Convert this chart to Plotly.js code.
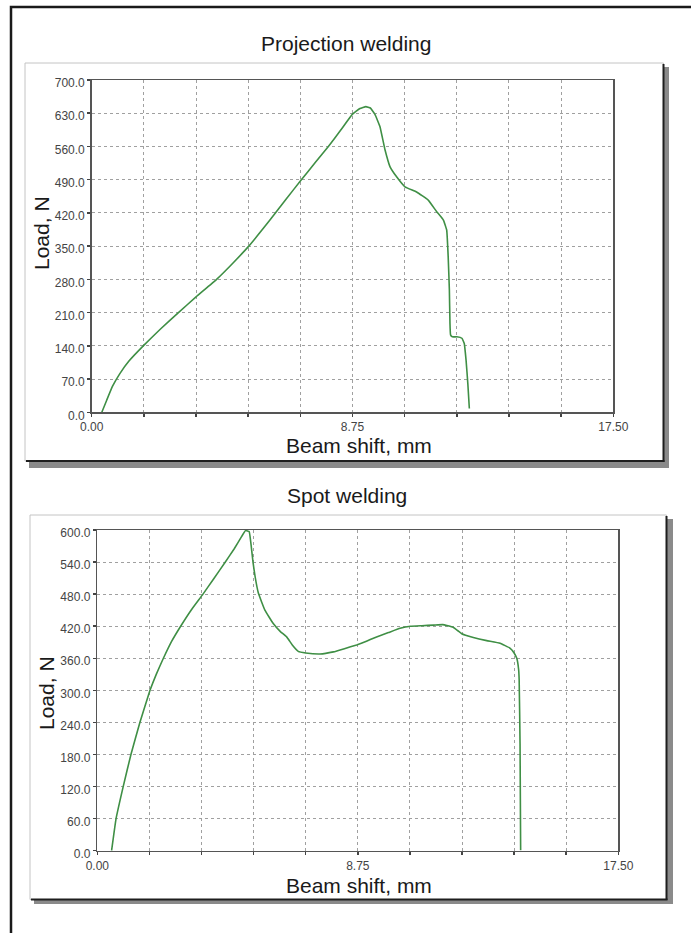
<!DOCTYPE html>
<html>
<head>
<meta charset="utf-8">
<script src="https://cdn.plot.ly/plotly-3.0.1.min.js"></script>
<style>
html,body{margin:0;padding:0;background:#fff;}
#chart{width:691px;height:933px;}
</style>
</head>
<body>
<div id="chart"></div>
<script>
// ---- Data ----
var projTitle = "Projection welding";
var spotTitle = "Spot welding";
var xTitle = "Beam shift, mm";
var yTitle = "Load, N";

var projShift = [0.34,0.50,0.70,0.95,1.25,1.73,2.30,2.91,3.50,4.19,4.75,5.27,5.98,6.50,7.02,7.50,7.94,8.35,8.75,9.00,9.20,9.35,9.50,9.67,9.84,10.01,10.23,10.51,10.90,11.29,11.57,11.80,11.91,11.96,12.00,12.02,12.04,12.10,12.25,12.42,12.50,12.56,12.62,12.67];
var projLoad  = [0,25,55,82,108,140,175,210,243,280,315,350,405,447,489,526,560,594,628,640,644,641,628,602,553,517,496,475,464,447,423,405,384,328,258,188,163,159,159,156,145,110,60,8];

var spotShift = [0.48,0.63,0.87,1.13,1.43,1.77,1.98,2.22,2.50,2.80,3.15,3.55,3.90,4.30,4.60,4.85,4.98,5.10,5.17,5.23,5.30,5.41,5.63,5.91,6.15,6.36,6.55,6.75,7.00,7.48,7.93,8.30,8.71,9.04,9.38,9.78,10.17,10.52,10.90,11.30,11.60,11.95,12.10,12.24,12.63,13.08,13.53,13.86,14.00,14.09,14.15,14.17,14.20,14.22];
var spotLoad  = [0,60,120,180,240,300,330,360,392,420,450,480,508,540,565,588,599,597,570,540,513,482,450,425,410,400,385,373,370,368,372,378,385,392,400,408,416,420,421,422,423,418,412,406,399,393,388,379,370,360,340,320,200,1];

var projYTicks = [0,70,140,210,280,350,420,490,560,630,700];
var spotYTicks = [0,60,120,180,240,300,360,420,480,540,600];
var xTickVals = [0,1.75,3.5,5.25,7,8.75,10.5,12.25,14,15.75,17.5];
var xTickText = ["0.00","","","","","8.75","","","","","17.50"];

// ---- Layout helpers (pixel -> paper) ----
var W = 691, H = 933;
function px(x){ return x / W; }
function py(y){ return 1 - y / H; }

var tickFont = {family: "Liberation Sans Narrow, Arial Narrow, Liberation Sans, Arial, sans-serif", size: 12, color: "#444"};
var titleFont = {family: "Liberation Sans, Arial, sans-serif", size: 21, color: "#1a1a1a"};

function xAxis(domain, anchor){
  return {
    domain: domain, anchor: anchor, range: [0, 17.5],
    tickmode: "array", tickvals: xTickVals, ticktext: xTickText,
    showgrid: true, gridcolor: "#a0a0a0", griddash: "dot", gridwidth: 1,
    zeroline: false, showline: true, linecolor: "#555", linewidth: 1.5, mirror: true,
    ticks: "outside", ticklen: 3, tickcolor: "#444", tickwidth: 1.5,
    tickfont: tickFont, ticklabelstandoff: 0,
    fixedrange: true
  };
}
function yAxis(domain, anchor, ticks, maxV){
  return {
    domain: domain, anchor: anchor, range: [0, maxV],
    tickmode: "array", tickvals: ticks, ticktext: ticks.map(function(v){return v.toFixed(1);}),
    showgrid: true, gridcolor: "#a0a0a0", griddash: "dot", gridwidth: 1,
    zeroline: false, showline: true, linecolor: "#555", linewidth: 1.5, mirror: true,
    ticks: "outside", ticklen: 3, tickcolor: "#444", tickwidth: 1.5,
    tickfont: tickFont, ticklabelshift: 3,
    fixedrange: true
  };
}

var traces = [
  {x: projShift, y: projLoad, xaxis: "x", yaxis: "y", type: "scatter", mode: "lines",
   line: {color: "#3f8f45", width: 1.6, shape: "spline", smoothing: 0.3}, showlegend: false, hoverinfo: "skip"},
  {x: spotShift, y: spotLoad, xaxis: "x2", yaxis: "y2", type: "scatter", mode: "lines",
   line: {color: "#3f8f45", width: 1.6, shape: "spline", smoothing: 0.3}, showlegend: false, hoverinfo: "skip"}
];

var shapes = [
  // outer frame
  {type: "rect", xref: "paper", yref: "paper", x0: px(11), x1: px(730), y0: py(7), y1: py(980),
   line: {color: "#1a1a1a", width: 2.5}, fillcolor: "rgba(0,0,0,0)", layer: "below"},
  // top panel shadow + box
  {type: "rect", xref: "paper", yref: "paper", x0: px(29), x1: px(669), y0: py(67), y1: py(468),
   line: {width: 0}, fillcolor: "#8a8a8a", layer: "below"},
  {type: "rect", xref: "paper", yref: "paper", x0: px(25), x1: px(663.5), y0: py(63), y1: py(461),
   line: {color: "#c4c4c4", width: 1}, fillcolor: "#ffffff", layer: "below"},
  {type: "line", xref: "paper", yref: "paper", x0: px(663.5), x1: px(663.5), y0: py(64), y1: py(462),
   line: {color: "#1e1e1e", width: 2}, layer: "below"},
  {type: "line", xref: "paper", yref: "paper", x0: px(26), x1: px(664.5), y0: py(461), y1: py(461),
   line: {color: "#1e1e1e", width: 2}, layer: "below"},
  // bottom panel shadow + box
  {type: "rect", xref: "paper", yref: "paper", x0: px(34), x1: px(673), y0: py(519), y1: py(904),
   line: {width: 0}, fillcolor: "#8a8a8a", layer: "below"},
  {type: "rect", xref: "paper", yref: "paper", x0: px(30), x1: px(666.5), y0: py(515), y1: py(899.5),
   line: {color: "#c4c4c4", width: 1}, fillcolor: "#ffffff", layer: "below"},
  {type: "line", xref: "paper", yref: "paper", x0: px(666.5), x1: px(666.5), y0: py(516), y1: py(900),
   line: {color: "#1e1e1e", width: 2}, layer: "below"},
  {type: "line", xref: "paper", yref: "paper", x0: px(31), x1: px(667.5), y0: py(899.5), y1: py(899.5),
   line: {color: "#1e1e1e", width: 2}, layer: "below"}
];

var annotations = [
  {text: projTitle, xref: "paper", yref: "paper", x: px(346), y: py(43), xanchor: "center", yanchor: "middle",
   showarrow: false, font: titleFont},
  {text: spotTitle, xref: "paper", yref: "paper", x: px(347), y: py(495), xanchor: "center", yanchor: "middle",
   showarrow: false, font: titleFont},
  {text: xTitle, xref: "paper", yref: "paper", x: px(359), y: py(445), xanchor: "center", yanchor: "middle",
   showarrow: false, font: titleFont},
  {text: xTitle, xref: "paper", yref: "paper", x: px(359), y: py(885), xanchor: "center", yanchor: "middle",
   showarrow: false, font: titleFont},
  {text: yTitle, xref: "paper", yref: "paper", x: px(42), y: py(233), xanchor: "center", yanchor: "middle",
   textangle: -90, showarrow: false, font: titleFont},
  {text: yTitle, xref: "paper", yref: "paper", x: px(46), y: py(693), xanchor: "center", yanchor: "middle",
   textangle: -90, showarrow: false, font: titleFont}
];

var layout = {
  width: W, height: H, autosize: false,
  margin: {l: 0, r: 0, t: 0, b: 0, pad: 0},
  paper_bgcolor: "#ffffff", plot_bgcolor: "#ffffff",
  showlegend: false,
  xaxis: xAxis([px(91.7), px(613.3)], "y"),
  yaxis: yAxis([py(412.3), py(80)], "x", projYTicks, 700),
  xaxis2: xAxis([px(97.3), px(618.3)], "y2"),
  yaxis2: yAxis([py(850.7), py(530)], "x2", spotYTicks, 600),
  shapes: shapes,
  annotations: annotations
};

Plotly.newPlot("chart", traces, layout, {staticPlot: true, displayModeBar: false});
</script>
</body>
</html>
